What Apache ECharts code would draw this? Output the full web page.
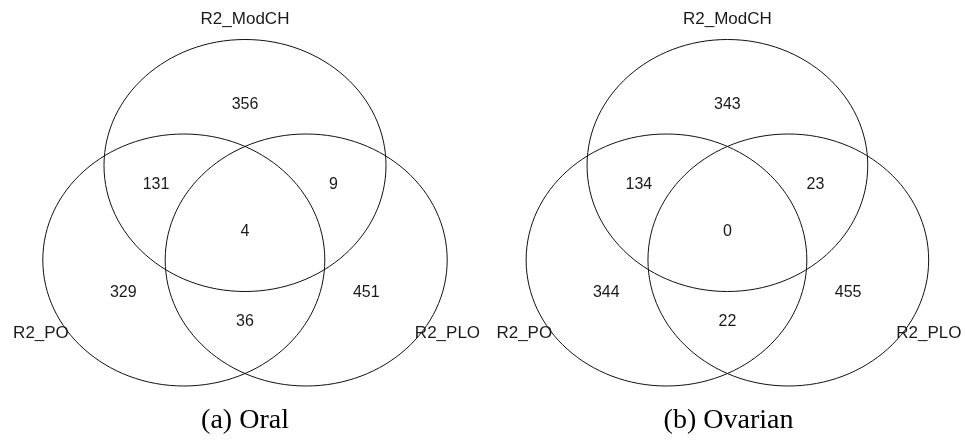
<!DOCTYPE html>
<html>
<head>
<meta charset="utf-8">
<script src="https://cdn.jsdelivr.net/npm/echarts@6/dist/echarts.min.js"></script>
<style>
  html, body { margin: 0; padding: 0; background: #ffffff; }
  #chart { width: 966px; height: 442px; }
</style>
</head>
<body>
<div id="chart"></div>
<script>
// Three-set Venn diagrams: region counts for each tissue
const setNames = ['R2_ModCH', 'R2_PO', 'R2_PLO'];
// region order: ModCH only, ModCH∩PO, ModCH∩PLO, all three, PO only, PLO only, PO∩PLO
const regionKeys = ['ModCH', 'ModCH&PO', 'ModCH&PLO', 'ModCH&PO&PLO', 'PO', 'PLO', 'PO&PLO'];
const oralCounts = [356, 131, 9, 4, 329, 451, 36];
const ovarianCounts = [343, 134, 23, 0, 344, 455, 22];
const panelCaptions = ['(a) Oral', '(b) Ovarian'];
const panelCounts = [oralCounts, ovarianCounts];

// Diagram geometry in set units (each set is a unit circle)
const setCenters = [[0, 0.5], [-0.434, -0.25], [0.434, -0.25]];
const setLabelAnchors = [[0, 1.663], [-1.447, -0.829], [1.436, -0.829]];
const regionAnchors = [
  [0, 0.98], [-0.631, 0.345], [0.627, 0.345], [0, -0.028],
  [-0.863, -0.512], [0.86, -0.512], [0, -0.742]
];

// Page layout
const panelCenterX = [245, 728.5];
const unitX = 141, unitY = 126, centroidY = 228.5;
const xRange = [-1.7, 1.7], yRange = [-1.6, 1.8];

const sansFont = '"Liberation Sans", Arial, sans-serif';
const serifFont = '"Liberation Serif", "Times New Roman", serif';

const grids = [], xAxes = [], yAxes = [], series = [], graphics = [];

panelCenterX.forEach(function (cx, i) {
  grids.push({
    left: cx + xRange[0] * unitX,
    top: centroidY - yRange[1] * unitY,
    width: (xRange[1] - xRange[0]) * unitX,
    height: (yRange[1] - yRange[0]) * unitY
  });
  xAxes.push({ type: 'value', gridIndex: i, min: xRange[0], max: xRange[1], show: false });
  yAxes.push({ type: 'value', gridIndex: i, min: yRange[0], max: yRange[1], show: false });

  // set outlines
  series.push({
    type: 'custom',
    xAxisIndex: i, yAxisIndex: i,
    silent: true,
    data: setCenters,
    renderItem: function (params, api) {
      const c = api.coord([api.value(0), api.value(1)]);
      const s = api.size([1, 1]);
      return {
        type: 'ellipse',
        shape: { cx: c[0], cy: c[1], rx: Math.abs(s[0]), ry: Math.abs(s[1]) },
        style: { fill: 'none', stroke: '#111111', lineWidth: 1 }
      };
    }
  });

  // region counts
  const counts = panelCounts[i];
  series.push({
    type: 'custom',
    xAxisIndex: i, yAxisIndex: i,
    silent: true,
    data: regionAnchors.map(function (p, k) { return [p[0], p[1], counts[k]]; }),
    renderItem: function (params, api) {
      const c = api.coord([api.value(0), api.value(1)]);
      return {
        type: 'text',
        x: c[0], y: c[1],
        style: {
          text: String(api.value(2)),
          textAlign: 'center', textVerticalAlign: 'middle',
          font: '16px ' + sansFont, fill: '#1a1a1a'
        }
      };
    }
  });

  // set names
  series.push({
    type: 'custom',
    xAxisIndex: i, yAxisIndex: i,
    silent: true,
    data: setLabelAnchors.map(function (p, k) { return [p[0], p[1], k]; }),
    renderItem: function (params, api) {
      const c = api.coord([api.value(0), api.value(1)]);
      return {
        type: 'text',
        x: c[0], y: c[1],
        style: {
          text: setNames[api.value(2)],
          textAlign: 'center', textVerticalAlign: 'middle',
          font: '17px ' + sansFont, fill: '#1a1a1a'
        }
      };
    }
  });

  // panel caption
  graphics.push({
    type: 'text',
    x: cx, y: 421,
    style: {
      text: panelCaptions[i],
      textAlign: 'center', textVerticalAlign: 'middle',
      font: '28px ' + serifFont, fill: '#000000'
    }
  });
});

const chart = echarts.init(document.getElementById('chart'), null, { renderer: 'canvas' });
chart.setOption({
  animation: false,
  backgroundColor: '#ffffff',
  grid: grids,
  xAxis: xAxes,
  yAxis: yAxes,
  series: series,
  graphic: graphics
});
</script>
</body>
</html>
